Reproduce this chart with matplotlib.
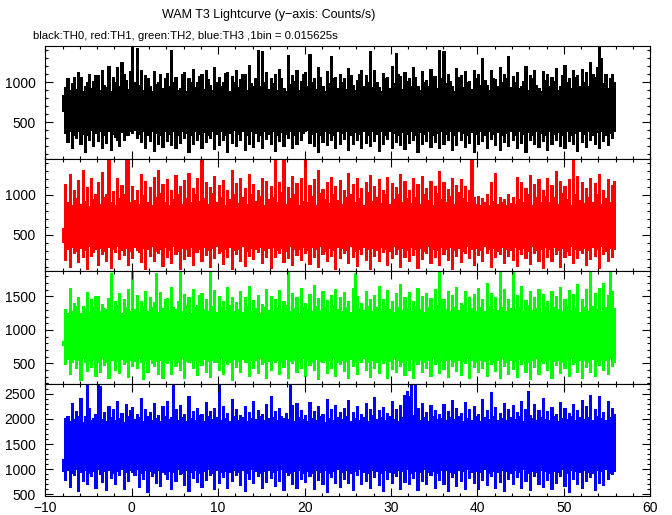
import numpy as np
import matplotlib
matplotlib.use('Agg')
import matplotlib.pyplot as plt
from matplotlib.ticker import MultipleLocator

plt.rcParams['font.family'] = ['Liberation Sans', 'DejaVu Sans']

# 时间范围 (s); 每列 0.25 s, 记录该列内的最大/最小计数率
t_start, t_end = -8, 56

# TH0 (black)
th0_max = [
    840, 930, 1040, 900, 980, 1060, 910, 1120, 1060, 880, 950, 990, 1100, 920, 1010, 1080,
    1080, 900, 1150, 960, 930, 1200, 890, 1060, 1000, 1180, 940, 1240, 1100, 1020, 910, 1130,
    1450, 1000, 1420, 960, 1150, 900, 1080, 1040, 940, 890, 1130, 970, 1000, 1090, 920, 1050,
    1110, 940, 1400, 990, 1060, 900, 920, 1100, 1120, 880, 1050, 1000, 1160, 930, 1000, 1070,
    1090, 910, 1140, 1030, 960, 900, 1180, 990, 1060, 940, 990, 1110, 1120, 890, 1070, 1000,
    1150, 930, 1030, 1090, 1100, 900, 1210, 980, 950, 1050, 1400, 940, 1380, 1000, 1120, 910,
    1040, 980, 1100, 900, 1160, 1050, 920, 880, 1330, 970, 1080, 1010, 1140, 900, 1010, 1090,
    1120, 940, 1350, 1000, 1050, 910, 1180, 1060, 940, 890, 1130, 980, 1320, 1040, 1060, 920,
    1100, 990, 1040, 910, 1170, 1080, 960, 900, 1020, 1100, 1140, 950, 1080, 1000, 1380, 930,
    1150, 1000, 930, 880, 1110, 1040, 1060, 920, 1200, 980, 1360, 1090, 1070, 910, 1120, 1010,
    1040, 950, 1180, 1060, 950, 900, 1130, 990, 1020, 940, 1160, 1070, 1070, 920, 1400, 1050,
    1380, 980, 1100, 1010, 940, 890, 1170, 1060, 1080, 930, 1130, 1000, 1010, 910, 1150, 1040,
    1090, 960, 1300, 1020, 960, 900, 1140, 1050, 1030, 940, 1180, 990, 1100, 1040, 1320, 930,
    1070, 990, 1120, 920, 940, 1010, 1190, 900, 1080, 1050, 1150, 960, 920, 890, 1130, 1020,
    1100, 940, 1060, 1010, 1170, 900, 950, 1080, 1210, 990, 1050, 920, 1140, 1060, 1080, 950,
    1160, 1000, 1120, 940, 1250, 1100, 1060, 1180, 1460, 1300, 980, 1100, 920, 1040, 1090, 1000,
]
th0_min = [
    640, 360, 250, 380, 180, 330, 300, 390, 220, 350, 130, 340, 280, 400, 200, 360,
    260, 380, 170, 330, 240, 390, 150, 350, 310, 280, 200, 370, 280, 340, 330, 390,
    360, 400, 300, 350, 250, 380, 180, 330, 260, 390, 140, 360, 230, 340, 190, 380,
    260, 350, 210, 390, 170, 340, 240, 380, 300, 360, 120, 330, 220, 390, 270, 350,
    180, 370, 250, 340, 300, 390, 160, 350, 210, 380, 280, 330, 130, 360, 240, 400,
    200, 350, 270, 380, 150, 340, 230, 390, 190, 360, 260, 330, 170, 380, 290, 350,
    220, 390, 140, 340, 260, 370, 200, 350, 300, 380, 170, 330, 230, 390, 270, 360,
    380, 400, 240, 350, 200, 370, 130, 340, 250, 390, 210, 360, 280, 330, 170, 380,
    230, 360, 290, 390, 150, 340, 220, 370, 270, 350, 180, 390, 240, 330, 200, 380,
    260, 350, 140, 380, 230, 340, 290, 390, 180, 360, 250, 330, 210, 370, 160, 350,
    240, 390, 280, 340, 130, 370, 220, 350, 260, 380, 190, 330, 250, 360, 170, 390,
    230, 350, 280, 380, 150, 340, 210, 390, 270, 360, 190, 330, 240, 370, 130, 350,
    220, 380, 260, 340, 180, 390, 290, 350, 210, 370, 150, 330, 250, 360, 200, 380,
    270, 340, 170, 390, 240, 350, 130, 370, 280, 330, 220, 380, 190, 360, 260, 340,
    150, 390, 230, 350, 280, 370, 200, 340, 170, 380, 260, 330, 220, 360, 140, 390,
    250, 350, 190, 380, 270, 340, 230, 370, 180, 390, 260, 330, 210, 360, 300, 380,
]

# TH1 (red)
th1_max = [
    580, 1130, 900, 1250, 860, 1060, 950, 1180, 880, 1300, 920, 1090, 850, 1200, 940, 1010,
    1150, 880, 1280, 960, 1000, 1470, 900, 1040, 870, 1200, 950, 1120, 1010, 1470, 1480, 900,
    1100, 930, 1050, 880, 1250, 990, 1170, 900, 1090, 860, 1220, 960, 1300, 1020, 1130, 900,
    1190, 870, 1060, 940, 1240, 1010, 1110, 880, 1180, 950, 1270, 900, 1080, 1000, 1200, 920,
    1470, 950, 1150, 880, 1090, 1020, 1230, 900, 1120, 970, 1180, 860, 1060, 940, 1310, 1000,
    1140, 890, 1200, 960, 1080, 880, 1250, 1010, 1130, 920, 1060, 980, 1210, 870, 1170, 940,
    1100, 960, 1480, 900, 1160, 1030, 1470, 880, 1090, 950, 1230, 1000, 1140, 870, 1200, 920,
    1470, 900, 1120, 980, 1190, 870, 1300, 1020, 1070, 940, 1150, 890, 1220, 1000, 1100, 930,
    1180, 880, 1050, 960, 1270, 1010, 1130, 900, 1210, 950, 1080, 870, 1160, 1030, 1240, 920,
    1110, 960, 1190, 890, 1060, 1000, 1220, 880, 1140, 940, 1090, 1010, 1260, 900, 1170, 950,
    1050, 890, 1200, 970, 1130, 880, 1230, 1000, 1080, 930, 1170, 870, 1110, 1020, 1290, 940,
    1150, 900, 1070, 980, 1210, 880, 1120, 1030, 1190, 950, 1100, 900, 1060, 1480, 970, 880,
    980, 860, 950, 900, 1000, 870, 1160, 920, 1270, 880, 960, 900, 940, 860, 1010, 890,
    970, 880, 1220, 940, 1150, 900, 1080, 1010, 1240, 870, 1130, 960, 1190, 900, 1060, 980,
    1200, 900, 1120, 970, 1290, 880, 1170, 1020, 1100, 940, 1190, 870, 1470, 1000, 1230, 930,
    1150, 890, 1080, 960, 1210, 900, 1140, 1010, 1260, 880, 1050, 950, 1190, 900, 1120, 1170,
]
th1_min = [
    400, 180, 310, 90, 340, 260, 290, 150, 330, 210, 300, 60, 350, 230, 280, 320,
    120, 330, 250, 290, 170, 340, 80, 310, 280, 350, 190, 300, 240, 330, 110, 290,
    200, 340, 300, 280, 150, 330, 60, 310, 230, 350, 170, 290, 270, 320, 100, 340,
    210, 300, 140, 350, 250, 290, 70, 330, 190, 310, 230, 340, 120, 280, 280, 320,
    160, 340, 240, 300, 90, 330, 200, 350, 260, 290, 130, 310, 220, 340, 60, 300,
    250, 320, 170, 350, 100, 290, 230, 330, 190, 310, 280, 340, 140, 300, 210, 330,
    80, 340, 220, 300, 260, 330, 150, 290, 200, 350, 110, 310, 240, 320, 180, 340,
    270, 300, 130, 340, 210, 320, 90, 350, 250, 290, 170, 330, 230, 300, 60, 340,
    200, 330, 260, 300, 140, 350, 210, 290, 100, 320, 250, 340, 180, 310, 70, 330,
    230, 300, 160, 340, 280, 320, 120, 290, 200, 350, 250, 310, 90, 330, 210, 300,
    170, 340, 240, 310, 80, 330, 190, 290, 260, 350, 140, 320, 220, 300, 110, 340,
    250, 310, 180, 340, 60, 300, 230, 330, 150, 290, 270, 350, 200, 310, 120, 330,
    240, 300, 170, 350, 260, 320, 90, 330, 210, 290, 250, 340, 140, 310, 230, 300,
    180, 340, 100, 310, 250, 330, 200, 290, 130, 350, 270, 300, 170, 320, 80, 340,
    220, 310, 160, 340, 250, 300, 90, 330, 210, 290, 240, 350, 140, 320, 200, 300,
    260, 330, 110, 300, 190, 340, 230, 310, 80, 350, 250, 290, 170, 330, 220, 310,
]

# TH2 (green)
th2_max = [
    820, 1300, 1250, 1620, 1280, 1400, 1350, 1480, 1240, 1350, 1300, 1560, 1260, 1450, 1330, 1500,
    1500, 1270, 1380, 1320, 1300, 1470, 1850, 1290, 1420, 1360, 1550, 1250, 1460, 1340, 1600, 1280,
    1870, 1300, 1520, 1260, 1430, 1350, 1580, 1280, 1490, 1330, 1410, 1850, 1260, 1560, 1320, 1450,
    1470, 1290, 1640, 1340, 1300, 1420, 1860, 1270, 1530, 1360, 1480, 1250, 1600, 1330, 1370, 1510,
    1540, 1310, 1450, 1280, 1880, 1350, 1590, 1260, 1500, 1330, 1420, 1290, 1630, 1360, 1480, 1270,
    1410, 1300, 1570, 1260, 1490, 1350, 1650, 1280, 1440, 1320, 1520, 1250, 1380, 1340, 1610, 1290,
    1500, 1270, 1460, 1330, 1590, 1300, 1430, 1360, 1860, 1280, 1550, 1320, 1480, 1250, 1620, 1340,
    1400, 1310, 1530, 1270, 1660, 1350, 1470, 1290, 1580, 1330, 1440, 1260, 1510, 1370, 1600, 1300,
    1490, 1280, 1560, 1340, 1430, 1260, 1620, 1840, 1500, 1320, 1390, 1290, 1570, 1350, 1460, 1270,
    1510, 1330, 1650, 1270, 1460, 1350, 1590, 1300, 1420, 1260, 1540, 1340, 1680, 1290, 1480, 1320,
    1560, 1280, 1430, 1350, 1620, 1300, 1500, 1260, 1540, 1330, 1470, 1290, 1600, 1360, 1870, 1450,
    1450, 1300, 1580, 1270, 1510, 1340, 1640, 1290, 1400, 1360, 1570, 1260, 1490, 1320, 1530, 1280,
    1620, 1330, 1460, 1270, 1700, 1350, 1550, 1300, 1480, 1290, 1860, 1340, 1600, 1270, 1450, 1320,
    1870, 1300, 1520, 1340, 1650, 1270, 1440, 1360, 1580, 1290, 1490, 1320, 1610, 1260, 1530, 1350,
    1420, 1280, 1570, 1340, 1500, 1300, 1640, 1270, 1460, 1350, 1590, 1290, 1530, 1320, 1680, 1260,
    1450, 1330, 1600, 1280, 1860, 1350, 1540, 1300, 1620, 1270, 1690, 1340, 1510, 1870, 1580, 1320,
]
th2_min = [
    770, 480, 560, 330, 520, 560, 420, 540, 250, 570, 510, 380, 530, 440, 550, 300,
    520, 360, 570, 470, 510, 270, 550, 540, 400, 530, 350, 560, 480, 520, 290, 550,
    450, 530, 420, 570, 520, 260, 540, 370, 560, 500, 450, 530, 330, 550, 280, 520,
    500, 540, 340, 560, 460, 510, 390, 570, 280, 530, 510, 540, 430, 550, 320, 520,
    470, 560, 360, 530, 290, 550, 520, 510, 400, 570, 330, 540, 480, 520, 250, 560,
    440, 530, 370, 560, 510, 520, 300, 550, 420, 540, 350, 570, 480, 510, 270, 530,
    390, 550, 520, 540, 340, 520, 440, 560, 280, 530, 500, 550, 370, 510, 430, 570,
    310, 540, 470, 520, 390, 560, 260, 530, 510, 550, 350, 540, 420, 570, 300, 520,
    480, 550, 380, 530, 270, 560, 450, 520, 330, 540, 510, 570, 400, 510, 290, 550,
    430, 520, 350, 560, 500, 540, 280, 530, 410, 570, 370, 550, 460, 520, 320, 540,
    390, 560, 270, 530, 490, 550, 360, 520, 420, 540, 300, 570, 480, 510, 350, 550,
    410, 540, 290, 560, 460, 520, 380, 550, 320, 530, 500, 570, 270, 540, 440, 520,
    360, 550, 420, 530, 300, 560, 490, 520, 380, 540, 270, 570, 450, 510, 340, 550,
    410, 530, 290, 560, 480, 540, 370, 520, 260, 550, 440, 570, 330, 530, 500, 540,
    390, 560, 280, 530, 470, 550, 350, 520, 420, 540, 300, 570, 490, 510, 370, 550,
    280, 540, 440, 520, 360, 560, 300, 530, 470, 550, 390, 540, 330, 570, 450, 520,
]

# TH3 (blue)
th3_max = [
    1200, 2000, 2050, 1950, 2300, 1980, 2150, 2040, 2400, 1920, 2050, 2690, 2200, 1960, 2010, 2080,
    2700, 2650, 1990, 2120, 1940, 2250, 2030, 2180, 1960, 2350, 2010, 2100, 1930, 2280, 2050, 2160,
    2230, 1980, 2080, 2020, 2400, 1940, 2190, 2050, 2120, 1970, 2300, 2000, 2060, 1950, 2250, 2040,
    2350, 1990, 2020, 2690, 2180, 1960, 2270, 2030, 2090, 1940, 2440, 2000, 2150, 1970, 2210, 2060,
    2080, 1950, 2320, 2040, 2150, 1980, 2210, 2020, 2700, 1960, 2250, 2010, 2110, 1940, 2380, 2050,
    2190, 1970, 2060, 2030, 2240, 1950, 2130, 2000, 2350, 1980, 2170, 2040, 2080, 1960, 2290, 2010,
    2450, 2020, 2140, 1960, 2200, 2050, 2010, 2100, 1980, 2690, 2260, 1940, 2310, 2030, 2170, 1990,
    2060, 1950, 2330, 2000, 2150, 1970, 2240, 2040, 2090, 1930, 2390, 2010, 2180, 1960, 2270, 2030,
    2120, 1980, 2210, 2050, 2360, 1950, 2130, 2000, 2250, 1970, 2080, 2030, 2300, 1940, 2190, 2060,
    2420, 1990, 2160, 2020, 2230, 1960, 2100, 2040, 2340, 1980, 2180, 1950, 2270, 2030, 2460, 2550,
    2440, 2700, 2060, 2690, 2200, 1970, 2310, 2020, 2130, 1950, 2260, 2040, 2170, 1990, 2090, 2010,
    2280, 1960, 2150, 2030, 2370, 1980, 2200, 2050, 2110, 1940, 2330, 2000, 2190, 1970, 2250, 2040,
    2080, 1950, 2390, 2020, 2160, 1990, 2520, 2040, 2220, 1960, 2100, 2010, 2300, 1970, 2180, 2030,
    2260, 1980, 2120, 2050, 2350, 1940, 2190, 2550, 2070, 2000, 2280, 1960, 2160, 2030, 2400, 1990,
    2140, 1970, 2230, 2040, 2090, 1950, 2320, 2010, 2200, 1980, 2110, 2050, 2290, 1960, 2170, 2020,
    2360, 1990, 2250, 2030, 2460, 1960, 2190, 2040, 2450, 2000, 2130, 1970, 2350, 2020, 2210, 2080,
]
th3_min = [
    950, 780, 980, 640, 920, 880, 990, 560, 940, 760, 970, 700, 910, 850, 960, 620,
    990, 900, 740, 950, 580, 980, 820, 920, 690, 960, 870, 990, 600, 930, 760, 970,
    940, 880, 990, 640, 920, 790, 970, 540, 950, 850, 910, 720, 980, 660, 940, 900,
    800, 960, 600, 930, 750, 990, 890, 920, 680, 970, 560, 940, 820, 980, 730, 910,
    640, 950, 780, 990, 870, 920, 590, 970, 710, 940, 830, 960, 620, 930, 760, 980,
    880, 940, 680, 970, 560, 920, 790, 990, 720, 950, 850, 910, 610, 960, 740, 980,
    820, 930, 650, 970, 760, 990, 580, 940, 870, 920, 700, 960, 620, 980, 800, 910,
    730, 950, 860, 920, 600, 980, 780, 940, 690, 970, 540, 910, 830, 960, 710, 990,
    640, 930, 800, 970, 720, 910, 580, 950, 870, 990, 690, 940, 760, 920, 610, 980,
    830, 960, 670, 920, 560, 980, 790, 940, 720, 910, 850, 970, 600, 950, 740, 990,
    690, 920, 820, 960, 580, 940, 760, 990, 690, 930, 870, 950, 620, 910, 780, 970,
    700, 980, 560, 940, 840, 910, 650, 970, 760, 950, 600, 990, 820, 930, 710, 960,
    590, 940, 770, 990, 680, 920, 850, 960, 620, 930, 740, 980, 560, 950, 800, 910,
    690, 970, 830, 940, 610, 990, 750, 920, 580, 960, 860, 930, 700, 980, 640, 950,
    780, 920, 600, 960, 720, 940, 850, 990, 660, 910, 540, 970, 790, 950, 700, 930,
    620, 980, 760, 940, 840, 910, 580, 970, 720, 950, 680, 990, 800, 920, 900, 960,
]

panels = [(th0_max, th0_min), (th1_max, th1_min), (th2_max, th2_min), (th3_max, th3_min)]
colors = ['black', '#ff0000', '#00ff00', '#0000ff']
ylims = [(50, 1450), (45, 1455), (200, 1880), (470, 2700)]

fig = plt.figure(figsize=(6.72, 5.15), dpi=100)
gs = fig.add_gridspec(4, 1, left=45.3 / 672, right=650.3 / 672,
                      top=1 - 46 / 515, bottom=1 - 496 / 515, hspace=0)

for i, ((ymax, ymin), c, yl) in enumerate(zip(panels, colors, ylims)):
    ax = fig.add_subplot(gs[i])
    edges = np.linspace(t_start, t_end, len(ymax) + 1)
    ax.stairs(ymax, edges, baseline=ymin, fill=True, color=c, lw=0, antialiased=False)
    ax.set_xlim(-10, 60)
    ax.set_ylim(*yl)
    ax.xaxis.set_major_locator(MultipleLocator(10))
    ax.xaxis.set_minor_locator(MultipleLocator(2))
    ax.yaxis.set_major_locator(MultipleLocator(500))
    ax.yaxis.set_minor_locator(MultipleLocator(100))
    ax.tick_params(which='both', direction='in', top=True, right=True,
                   width=0.8, labelsize=10)
    ax.tick_params(which='major', length=5.5)
    ax.tick_params(which='minor', length=2.5)
    ax.tick_params(axis='y', which='major', pad=7)
    for s in ax.spines.values():
        s.set_linewidth(0.8)
    if i < 3:
        ax.tick_params(labelbottom=False)

fig.text(269 / 672, 1 - 15 / 515, 'WAM T3 Lightcurve (y\u2212axis: Counts/s)',
         ha='center', va='center', fontsize=9)
fig.text(33 / 672, 1 - 36 / 515,
         'black:TH0, red:TH1, green:TH2, blue:TH3 ,1bin = 0.015625s',
         ha='left', va='center', fontsize=8.2)

plt.savefig('out.png', dpi=100)
